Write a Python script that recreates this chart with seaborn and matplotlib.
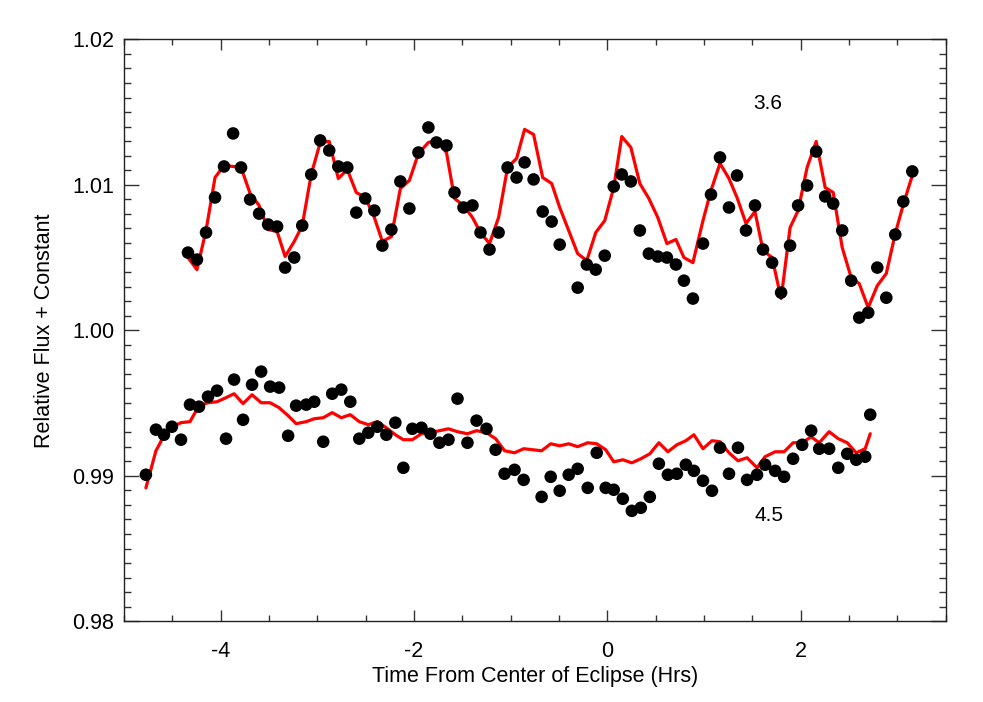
import matplotlib
matplotlib.use("Agg")
import matplotlib.pyplot as plt
import seaborn as sns
import pandas as pd
import numpy as np
from matplotlib.ticker import MultipleLocator

# 3.6 micron channel (time in hours, observed flux, model)
t36 = [-4.337, -4.244, -4.150, -4.057, -3.964, -3.870, -3.788, -3.694, -3.601, -3.508,
       -3.415, -3.332, -3.238, -3.155, -3.062, -2.969, -2.876, -2.782, -2.689, -2.596,
       -2.503, -2.409, -2.326, -2.233, -2.140, -2.047, -1.953, -1.850, -1.767, -1.663,
       -1.580, -1.487, -1.394, -1.311, -1.218, -1.124, -1.031, -0.938, -0.855, -0.762,
       -0.668, -0.575, -0.492, -0.399, -0.306, -0.212, -0.119, -0.026, 0.067, 0.150,
       0.244, 0.337, 0.430, 0.523, 0.617, 0.710, 0.793, 0.886, 0.990, 1.073,
       1.166, 1.259, 1.342, 1.435, 1.528, 1.611, 1.705, 1.798, 1.891, 1.974,
       2.067, 2.161, 2.254, 2.337, 2.430, 2.523, 2.606, 2.699, 2.793, 2.886,
       2.979, 3.062, 3.155]
f36 = [1.00534, 1.00486, 1.00672, 1.00913, 1.01126, 1.01353, 1.01119, 1.00899, 1.00802, 1.00727,
       1.00713, 1.00431, 1.00500, 1.00720, 1.01071, 1.01305, 1.01236, 1.01126, 1.01119, 1.00809,
       1.00906, 1.00823, 1.00582, 1.00692, 1.01023, 1.00837, 1.01222, 1.01394, 1.01291, 1.01270,
       1.00947, 1.00844, 1.00858, 1.00672, 1.00555, 1.00672, 1.01119, 1.01050, 1.01154, 1.01037,
       1.00816, 1.00747, 1.00589, np.nan, 1.00293, 1.00452, 1.00417, 1.00513, 1.00988, 1.01071,
       1.01023, 1.00686, 1.00527, 1.00507, 1.00500, 1.00452, 1.00341, 1.00218, 1.00596, 1.00933,
       1.01188, 1.00844, 1.01064, 1.00686, 1.00858, 1.00555, 1.00465, 1.00259, 1.00582, 1.00858,
       1.00995, 1.01229, 1.00920, 1.00871, 1.00686, 1.00341, 1.00087, 1.00121, 1.00431, 1.00224,
       1.00658, 1.00885, 1.01092]
m36 = [1.00500, 1.00417, 1.00686, 1.01050, 1.01133, 1.01126, 1.01119, 1.00940, 1.00858, 1.00692,
       1.00679, 1.00507, 1.00610, 1.00720, 1.01071, 1.01291, 1.01298, 1.01043, 1.01105, 1.00947,
       1.00913, 1.00775, 1.00610, 1.00644, 1.00975, 1.01030, 1.01215, 1.01291, 1.01305, 1.01222,
       1.00906, 1.00858, 1.00775, 1.00672, 1.00596, 1.00775, 1.01119, 1.01181, 1.01381, 1.01346,
       1.01050, 1.01009, 1.00844, 1.00686, 1.00527, 1.00479, 1.00672, 1.00754, 1.00981, 1.01332,
       1.01257, 1.01009, 1.00906, 1.00775, 1.00596, 1.00624, 1.00500, 1.00465, 1.00754, 1.00961,
       1.01147, 1.01043, 1.00913, 1.00734, 1.00816, 1.00548, 1.00500, 1.00218, 1.00706, 1.00823,
       1.01119, 1.01298, 1.00981, 1.00947, 1.00569, 1.00362, 1.00321, 1.00156, 1.00307, 1.00390,
       1.00665, 1.00865, 1.01064]

# 4.5 micron channel
t45 = [-4.772, -4.668, -4.585, -4.503, -4.409, -4.316, -4.223, -4.130, -4.036, -3.943,
       -3.860, -3.767, -3.674, -3.580, -3.487, -3.394, -3.301, -3.218, -3.114, -3.031,
       -2.938, -2.845, -2.751, -2.658, -2.565, -2.472, -2.378, -2.285, -2.192, -2.109,
       -2.016, -1.922, -1.829, -1.736, -1.642, -1.549, -1.446, -1.352, -1.249, -1.155,
       -1.062, -0.959, -0.865, -0.772, -0.679, -0.585, -0.492, -0.399, -0.306, -0.202,
       -0.109, -0.016, 0.067, 0.161, 0.254, 0.347, 0.440, 0.534, 0.627, 0.720,
       0.813, 0.896, 0.990, 1.083, 1.166, 1.259, 1.352, 1.446, 1.549, 1.632,
       1.736, 1.829, 1.922, 2.016, 2.109, 2.192, 2.295, 2.389, 2.482, 2.575,
       2.668, 2.720]
f45 = [0.99007, 0.99317, 0.99282, 0.99337, 0.99248, 0.99489, 0.99475, 0.99544, 0.99585, 0.99255,
       0.99661, 0.99385, 0.99626, 0.99716, 0.99613, 0.99606, 0.99275, 0.99482, 0.99489, 0.99509,
       0.99234, 0.99564, 0.99592, 0.99509, 0.99255, 0.99296, 0.99337, 0.99282, 0.99365, 0.99055,
       0.99323, 0.99330, 0.99289, 0.99227, 0.99248, 0.99530, 0.99227, 0.99379, 0.99323, 0.99179,
       0.99014, 0.99041, 0.98972, np.nan, 0.98855, 0.98993, 0.98897, 0.99007, 0.99048, 0.98917,
       0.99158, 0.98917, 0.98904, 0.98842, 0.98759, 0.98780, 0.98855, 0.99083, 0.99007, 0.99014,
       0.99076, 0.99034, 0.98966, 0.98897, 0.99193, 0.99014, 0.99193, 0.98972, 0.99007, 0.99076,
       0.99034, 0.98993, 0.99117, 0.99213, 0.99310, 0.99186, 0.99186, 0.99055, 0.99151, 0.99110,
       0.99131, 0.99420]
m45 = [0.98917, 0.99172, 0.99275, 0.99337, 0.99365, 0.99372, 0.99482, 0.99502, 0.99509, 0.99537,
       0.99564, 0.99496, 0.99557, 0.99502, 0.99502, 0.99468, 0.99413, 0.99358, 0.99372, 0.99392,
       0.99399, 0.99434, 0.99399, 0.99420, 0.99372, 0.99351, 0.99372, 0.99330, 0.99282, 0.99248,
       0.99248, 0.99289, 0.99296, 0.99310, 0.99323, 0.99303, 0.99289, 0.99310, 0.99296, 0.99255,
       0.99172, 0.99158, 0.99186, 0.99179, 0.99172, 0.99220, 0.99206, 0.99220, 0.99200, 0.99227,
       0.99220, 0.99179, 0.99096, 0.99110, 0.99089, 0.99117, 0.99151, 0.99227, 0.99165, 0.99213,
       0.99241, 0.99282, 0.99186, 0.99241, 0.99234, 0.99158, 0.99103, 0.99124, 0.99055, 0.99131,
       0.99165, 0.99165, 0.99227, 0.99227, 0.99268, 0.99227, 0.99303, 0.99255, 0.99227, 0.99158,
       0.99186, 0.99289]

df36 = pd.DataFrame({"time": t36, "flux": f36, "model": m36})
df45 = pd.DataFrame({"time": t45, "flux": f45, "model": m45})

sns.set_style("ticks")
plt.rcParams["font.family"] = ["Liberation Sans", "DejaVu Sans"]
plt.rcParams["axes.unicode_minus"] = False
plt.rcParams["text.color"] = "black"
plt.rcParams["axes.labelcolor"] = "black"
plt.rcParams["xtick.labelcolor"] = "black"
plt.rcParams["ytick.labelcolor"] = "black"

fig = plt.figure(figsize=(9.83, 7.02), dpi=100)
ax = fig.add_axes([0.126, 0.115, 0.836, 0.829])

for d in (df36, df45):
    sns.lineplot(data=d, x="time", y="model", ax=ax, color="red", lw=2.3,
                 sort=False, estimator=None, zorder=2)
    sns.scatterplot(data=d.dropna(), x="time", y="flux", ax=ax, color="black",
                    s=82, edgecolor="none", zorder=3)

ax.text(1.663, 1.0156, "3.6", fontsize=15, ha="center", va="center")
ax.text(1.673, 0.98725, "4.5", fontsize=15, ha="center", va="center")

ax.set_xlim(-5, 3.5)
ax.set_ylim(0.98, 1.02)
ax.xaxis.set_major_locator(MultipleLocator(2))
ax.xaxis.set_minor_locator(MultipleLocator(0.5))
ax.yaxis.set_major_locator(MultipleLocator(0.01))
ax.yaxis.set_minor_locator(MultipleLocator(0.001))
ax.yaxis.set_major_formatter(matplotlib.ticker.FormatStrFormatter("%.2f"))
ax.tick_params(which="both", direction="in", top=True, right=True,
               labelsize=15.5, color="#333333", width=1)
ax.tick_params(axis="x", which="major", length=8, pad=14)
ax.tick_params(axis="x", which="minor", length=4.3)
ax.tick_params(axis="y", which="major", length=11, pad=7)
ax.tick_params(axis="y", which="minor", length=5)
for sp in ax.spines.values():
    sp.set_linewidth(1)
    sp.set_color("#222222")

ax.set_xlabel("Time From Center of Eclipse (Hrs)", fontsize=15.5, labelpad=3)
ax.set_ylabel("Relative Flux + Constant", fontsize=15.5, labelpad=12)

fig.savefig("out.png", dpi=100)
